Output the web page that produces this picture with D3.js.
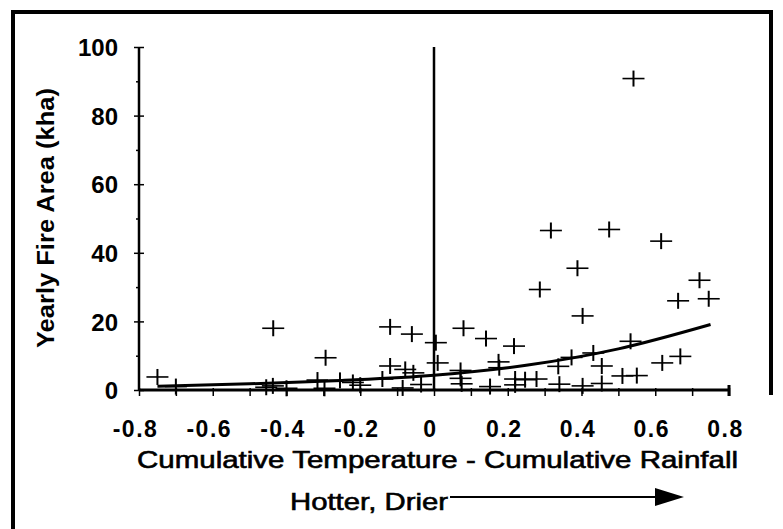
<!DOCTYPE html>
<html>
<head>
<meta charset="utf-8">
<script src="https://cdn.jsdelivr.net/npm/d3@7"></script>
<style>
body { margin: 0; background: #fff; }
text { font-family: "Liberation Sans", Arial, sans-serif; fill: #000; }
</style>
</head>
<body>
<script>
var width = 783;
var height = 529;

// scatter points (x = temp - rain, y = fire area kha)
var xValues = [-0.75, -0.70, -0.455, -0.437, -0.436, -0.40, -0.316, -0.297, -0.294, -0.255,
    -0.22, -0.20, -0.14, -0.119, -0.119, -0.085, -0.078, -0.06, -0.056, -0.035,
    0.005, 0.01, 0.072, 0.072, 0.075, 0.08, 0.141, 0.152, 0.175, 0.177,
    0.217, 0.22, 0.22, 0.247, 0.278, 0.287, 0.317, 0.337, 0.34, 0.373,
    0.389, 0.403, 0.403, 0.432, 0.455, 0.455, 0.475, 0.511, 0.533, 0.541,
    0.55, 0.616, 0.619, 0.662, 0.668, 0.72, 0.745];
var yValues = [3.8, 1.0, 0.8, 1.2, 18.0, 0.5, 2.9, 0.5, 9.4, 2.8,
    2.2, 1.4, 3.2, 18.4, 7.0, 0.6, 6.0, 16.3, 5.0, 1.6,
    13.8, 7.9, 5.7, 3.4, 1.8, 18.0, 15.0, 1.0, 8.2, 6.5,
    12.8, 3.2, 1.5, 3.0, 3.2, 29.3, 46.5, 6.9, 1.7, 9.5,
    35.5, 21.6, 1.2, 10.8, 7.0, 1.9, 46.8, 4.1, 14.2, 90.8,
    4.2, 43.4, 7.9, 26.0, 9.8, 32.0, 26.6];

// fitted curve
var fitX = [-0.75, -0.5, -0.25, 0, 0.25, 0.5, 0.75];
var fitY = [1.1, 1.8, 2.8, 4.3, 7.2, 12.0, 19.1];

var xTicks = [-0.8, -0.6, -0.4, -0.2, 0, 0.2, 0.4, 0.6, 0.8];
var xMinor = [-0.7, -0.5, -0.3, -0.1, 0.1, 0.3, 0.5, 0.7];
var yTicks = [0, 20, 40, 60, 80, 100];
var yMinor = [10, 30, 50, 70, 90];

var x = d3.scaleLinear().domain([-0.8, 0.8]).range([139, 729]);
var y = d3.scaleLinear().domain([0, 100]).range([390, 47]);

var svg = d3.select("body").append("svg")
    .attr("width", width)
    .attr("height", height);

//frame
svg.append("path")
    .attr("d", "M13,529 V12 H771 V395")
    .attr("fill", "none")
    .attr("stroke", "#000")
    .attr("stroke-width", 4);

//x axis
var gx = svg.append("g")
    .attr("transform", "translate(0," + y(0) + ")")
    .call(d3.axisBottom(x)
        .tickValues(xTicks.concat(xMinor))
        .tickSize(6)
        .tickFormat(function (d) { return xTicks.indexOf(d) >= 0 ? String(d) : ""; }));
gx.select(".domain").remove();
gx.selectAll(".tick line")
    .attr("y1", -2)
    .attr("stroke-width", 1.5);
gx.selectAll(".tick text")
    .attr("y", 47)
    .attr("dy", 0)
    .attr("dx", -4)
    .style("font-size", "23px")
    .style("font-weight", "bold")
    .style("letter-spacing", "1.5px")
    .style("font-family", "'Liberation Sans', Arial, sans-serif");

svg.append("line")
    .attr("x1", x(-0.8))
    .attr("x2", x(0.8) + 1)
    .attr("y1", y(0))
    .attr("y2", y(0))
    .attr("stroke", "#000")
    .attr("stroke-width", 3);

svg.append("line")
    .attr("x1", x(0.8))
    .attr("x2", x(0.8))
    .attr("y1", y(0) - 5)
    .attr("y2", y(0) + 6)
    .attr("stroke", "#000")
    .attr("stroke-width", 3);

//y axis
var gy = svg.append("g")
    .attr("transform", "translate(" + x(-0.8) + ",0)")
    .call(d3.axisLeft(y)
        .tickValues(yTicks.concat(yMinor))
        .tickSize(4)
        .tickFormat(function (d) { return yTicks.indexOf(d) >= 0 ? String(d) : ""; }));
gy.select(".domain").remove();
gy.selectAll(".tick line")
    .attr("x2", function (d) { return yTicks.indexOf(d) >= 0 ? -5 : -3; })
    .attr("x1", function (d) { return yTicks.indexOf(d) >= 0 ? 5 : 0; })
    .attr("stroke-width", 1.5);
gy.selectAll(".tick text")
    .attr("x", -21)
    .attr("dy", "0.36em")
    .style("font-size", "24px")
    .style("font-weight", "bold")
    .style("font-family", "'Liberation Sans', Arial, sans-serif");

svg.append("line")
    .attr("x1", x(-0.8))
    .attr("x2", x(-0.8))
    .attr("y1", y(100))
    .attr("y2", y(0))
    .attr("stroke", "#000")
    .attr("stroke-width", 2.5);

//vertical line at zero
svg.append("line")
    .attr("x1", x(0))
    .attr("x2", x(0))
    .attr("y1", y(100))
    .attr("y2", y(0))
    .attr("stroke", "#000")
    .attr("stroke-width", 2.5);

//points as crosses: thin horizontal arm, heavier vertical arm
var pts = svg.selectAll(".pt")
    .data(d3.zip(xValues, yValues))
    .enter()
    .append("g")
    .classed("pt", true);

pts.append("line")
    .attr("x1", function (d) { return x(d[0]) - 11; })
    .attr("x2", function (d) { return x(d[0]) + 11; })
    .attr("y1", function (d) { return y(d[1]); })
    .attr("y2", function (d) { return y(d[1]); })
    .attr("stroke", "#000")
    .attr("stroke-width", 1.6);

pts.append("line")
    .attr("x1", function (d) { return x(d[0]); })
    .attr("x2", function (d) { return x(d[0]); })
    .attr("y1", function (d) { return y(d[1]) - 8; })
    .attr("y2", function (d) { return y(d[1]) + 8; })
    .attr("stroke", "#000")
    .attr("stroke-width", 2);

//fitted curve
var fitLine = d3.line()
    .x(function (d) { return x(d[0]); })
    .y(function (d) { return y(d[1]); })
    .curve(d3.curveMonotoneX);

svg.append("path")
    .datum(d3.zip(fitX, fitY))
    .attr("d", fitLine)
    .attr("fill", "none")
    .attr("stroke", "#000")
    .attr("stroke-width", 3);

//labels
svg.append("text")
    .attr("transform", "translate(54,218) rotate(-90)")
    .attr("text-anchor", "middle")
    .attr("textLength", 260)
    .attr("lengthAdjust", "spacingAndGlyphs")
    .style("font-size", "23px")
    .style("font-weight", "bold")
    .text("Yearly Fire Area (kha)");

svg.append("text")
    .attr("x", 137)
    .attr("y", 468)
    .attr("textLength", 601)
    .attr("lengthAdjust", "spacingAndGlyphs")
    .attr("stroke", "#000")
    .attr("stroke-width", 0.6)
    .style("font-size", "24px")
    .text("Cumulative Temperature - Cumulative Rainfall");

svg.append("text")
    .attr("x", 290)
    .attr("y", 510)
    .attr("textLength", 158)
    .attr("lengthAdjust", "spacingAndGlyphs")
    .attr("stroke", "#000")
    .attr("stroke-width", 0.6)
    .style("font-size", "24px")
    .text("Hotter, Drier");

//arrow
svg.append("line")
    .attr("x1", 450)
    .attr("x2", 660)
    .attr("y1", 497)
    .attr("y2", 497)
    .attr("stroke", "#000")
    .attr("stroke-width", 2);

svg.append("path")
    .attr("d", "M655,488 L684,497 L655,506 Z")
    .attr("fill", "#000");
</script>
</body>
</html>
